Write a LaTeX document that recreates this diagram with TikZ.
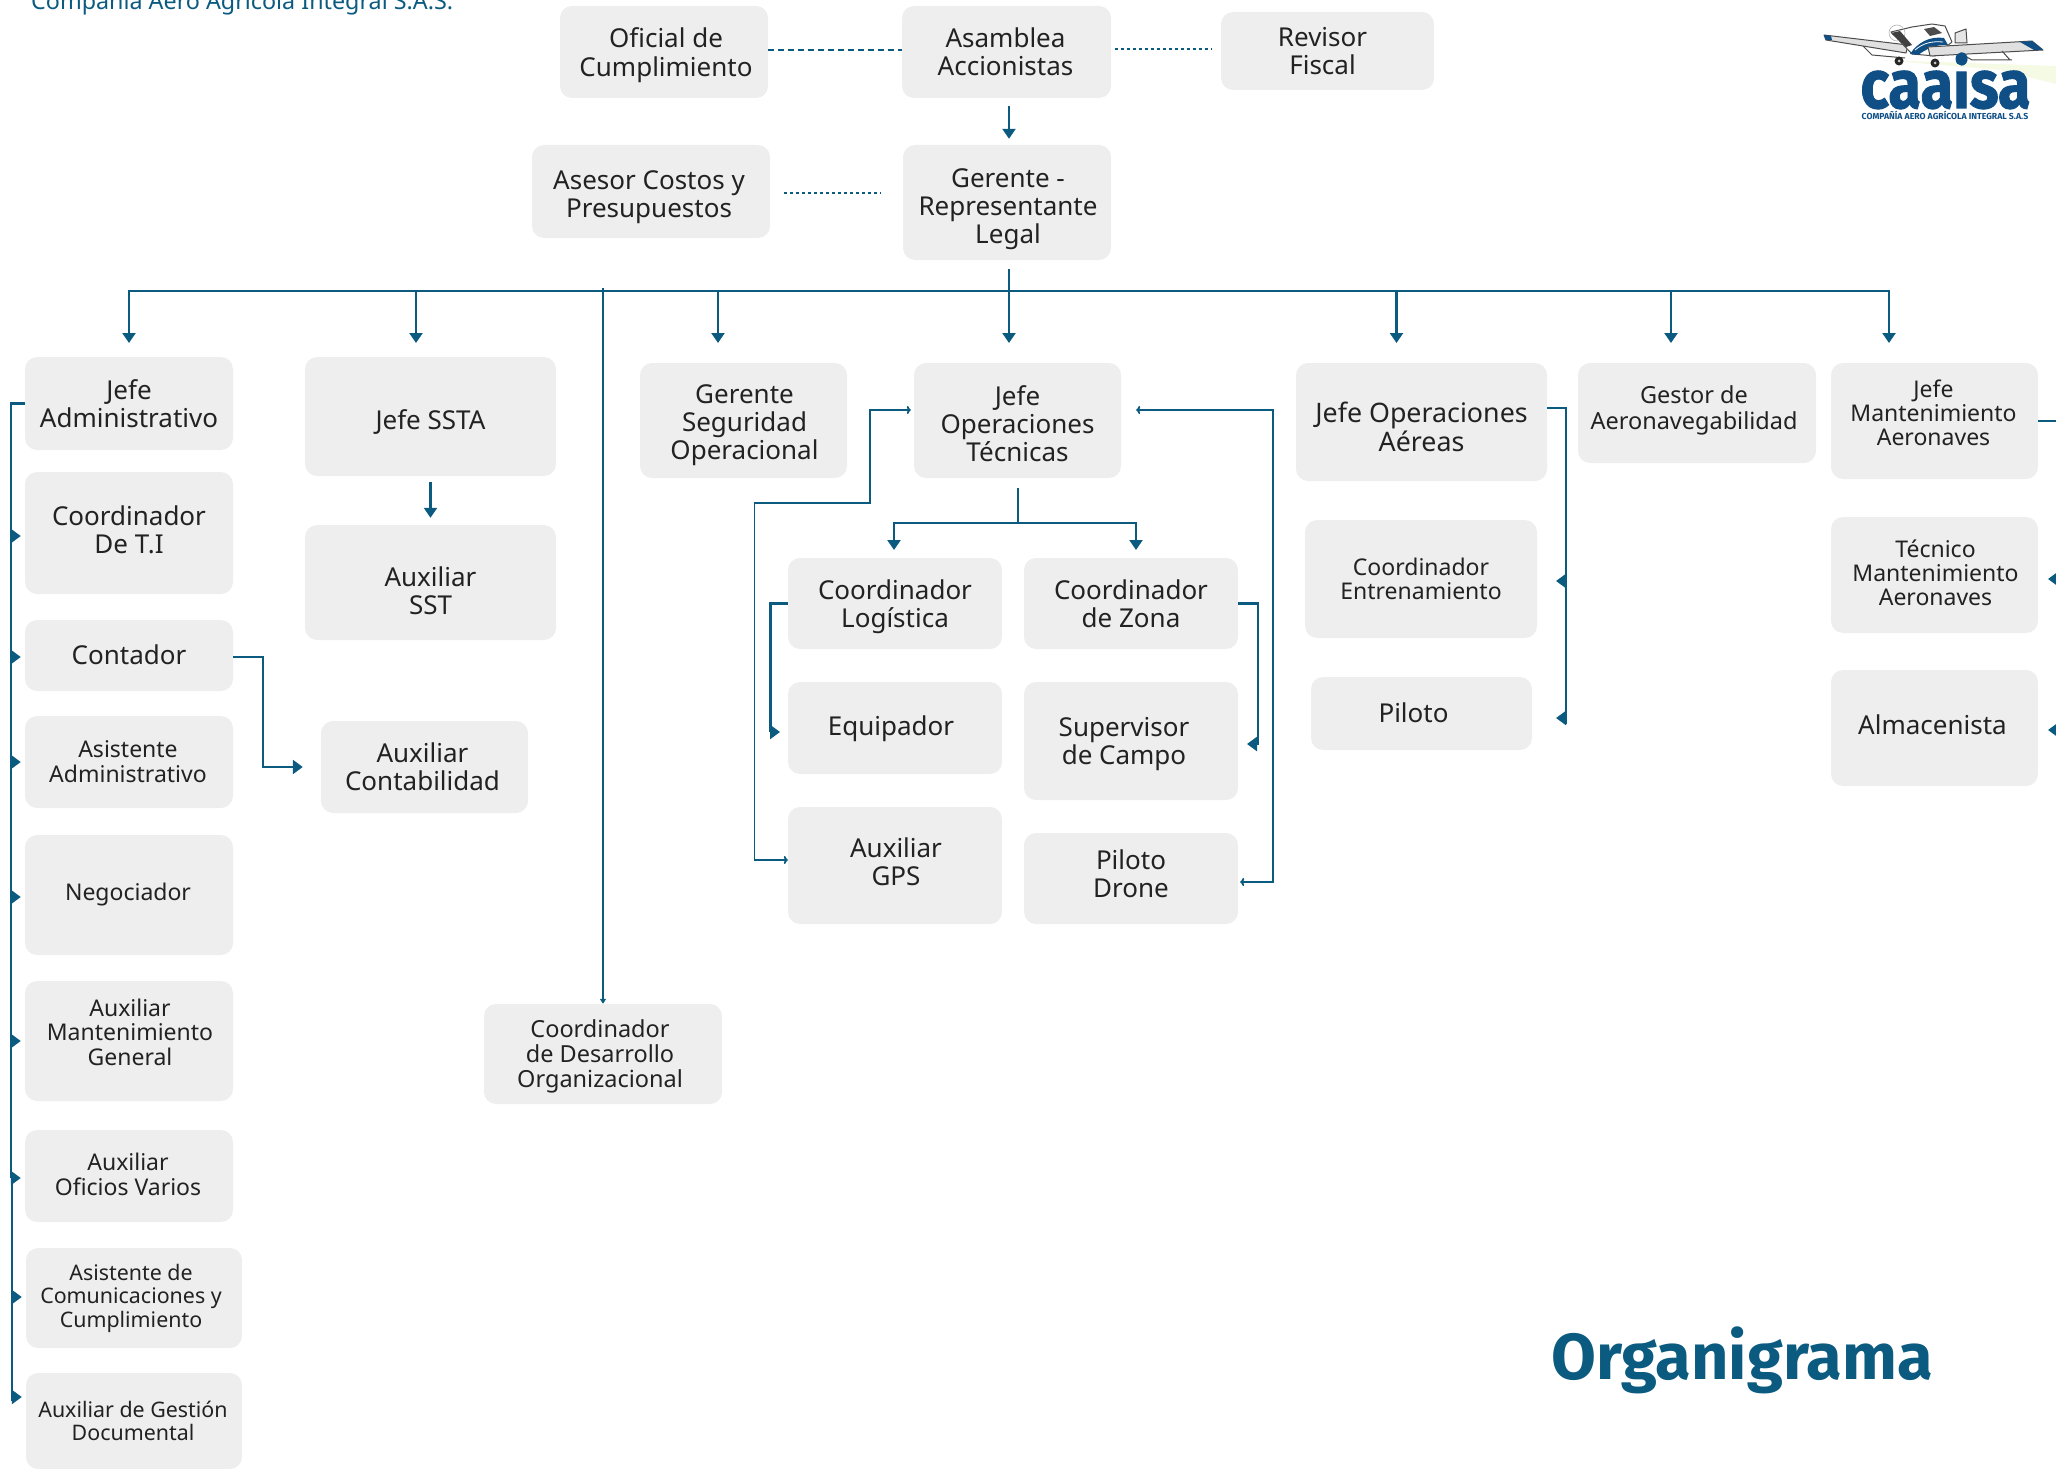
\documentclass[tikz,border=0pt]{standalone}
\usepackage{fontspec}
\usepackage{graphicx}
\setmainfont{Noto Sans}
\newfontfamily\ttlfont{Fira Sans}
\newfontfamily\logofont[UprightFont=* Bold,FakeBold=1.5]{Fira Sans}
\usetikzlibrary{arrows.meta}
\definecolor{teal}{HTML}{0B5A80}
\definecolor{boxgray}{HTML}{EEEEEE}
\definecolor{ink}{HTML}{222222}
\definecolor{logoblue}{HTML}{0F4F86}
\def\sA{\fontsize{26}{28}\selectfont}
\def\sE{\fontsize{26.8}{28}\selectfont}
\def\sB{\fontsize{23.5}{25}\selectfont}
\def\sC{\fontsize{23}{24}\selectfont}
\def\sD{\fontsize{21.4}{23}\selectfont}
\tikzset{
  boxn/.style={fill=boxgray,draw=none,rounded corners=12pt,inner sep=0pt,text=ink,align=center},
  conn/.style={draw=teal,line width=2.3pt},
  thinconn/.style={draw=teal,line width=1.9pt},
  tipdown/.style={conn,-{Triangle[length=10pt,width=13pt]}},
  tipside/.style={conn,-{Triangle[length=10pt,width=14pt]}},
  tipopen/.style={thinconn,{To[length=4pt,width=8pt]}-{To[length=4pt,width=8pt]}},
  tipsmall/.style={thinconn,-{Triangle[length=5pt,width=6pt]}},
  dots/.style={conn,dash pattern=on 3pt off 3pt},
  dashd/.style={conn,dash pattern=on 6pt off 4pt},
}
% name, x1,y1,x2,y2, size, dx,dy, text
\newcommand{\bx}[9]{%
  \pgfmathsetmacro{\bcx}{(#2+#4)/2}%
  \pgfmathsetmacro{\bcy}{(#3+#5)/2}%
  \pgfmathsetmacro{\bw}{#4-#2}%
  \pgfmathsetmacro{\bh}{#5-#3}%
  \node[boxn,minimum width=\bw pt,minimum height=\bh pt] (#1) at (\bcx,\bcy)
   {#6\raisebox{\dimexpr-0.40em-#8pt\relax}[0pt][0pt]{\makebox[0pt]{\hspace*{\dimexpr 2\dimexpr#7pt\relax\relax}\begin{tabular}{@{}c@{}}#9\end{tabular}}}};}
\begin{document}
\begin{tikzpicture}[x=1pt,y=-1pt]
\useasboundingbox (0,0) rectangle (2056,1469);
\clip (0,0) rectangle (2056,1469);
\node[anchor=base west,inner sep=0pt,text=teal,font=\fontsize{23.3}{24}\selectfont] (hdr) at (31,10) {Compañía Aero Agrícola Integral S.A.S.};
\node[anchor=base west,inner sep=0pt,text=teal,font=\ttlfont\bfseries\fontsize{65}{66}\selectfont] (ttl) at (1551,1379) {Organigrama};
% boxes
\bx{ofi}{560}{6}{768}{98}{\sA}{2}{0}{Oficial de\\Cumplimiento}
\bx{asa}{902}{6}{1111}{98}{\sA}{-1}{0}{Asamblea\\Accionistas}
\bx{rev}{1221}{12}{1434}{90}{\sA}{-5}{0}{Revisor\\Fiscal}
\bx{ase}{532}{145}{770}{238}{\sA}{-2}{2}{Asesor Costos y\\Presupuestos}
\bx{ger}{903}{145}{1111}{260}{\sA}{1}{3}{Gerente -\\Representante\\Legal}
\bx{jad}{25}{357}{233}{450}{\sA}{0}{0}{Jefe\\Administrativo}
\bx{ssta}{305}{357}{556}{476}{\sA}{0}{3}{Jefe SSTA}
\bx{cti}{25}{472}{233}{594}{\sA}{0}{-3}{Coordinador\\De T.I}
\bx{con}{25}{620}{233}{691}{\sA}{0}{-1}{Contador}
\bx{asi}{25}{716}{233}{808}{\sC}{-1}{0}{Asistente\\Administrativo}
\bx{neg}{25}{835}{233}{955}{\sC}{-1}{-3}{Negociador}
\bx{amg}{25}{981}{233}{1101}{\sC}{1}{-8}{Auxiliar\\Mantenimiento\\General}
\bx{aof}{25}{1130}{233}{1222}{\sC}{-1}{-1}{Auxiliar\\Oficios Varios}
\bx{aco}{26}{1248}{242}{1348}{\sD}{-3}{-2}{Asistente de\\Comunicaciones y\\Cumplimiento}
\bx{agd}{26}{1373}{242}{1469}{\sD}{-1}{0}{Auxiliar de Gestión\\Documental}
\bx{sst}{305}{525}{556}{640}{\sA}{0}{8}{Auxiliar\\SST}
\bx{actb}{321}{721}{528}{813}{\sA}{-2}{0}{Auxiliar\\Contabilidad}
\bx{des}{484}{1004}{722}{1104}{\sB}{-3}{0}{Coordinador\\de Desarrollo\\Organizacional}
\bx{gso}{640}{363}{847}{478}{\sA}{1}{1}{Gerente\\Seguridad\\Operacional}
\bx{jot}{914}{363}{1121}{478}{\sA}{0}{3}{Jefe\\Operaciones\\Técnicas}
\bx{clo}{788}{558}{1002}{649}{\sA}{0}{0}{Coordinador\\Logística}
\bx{czo}{1024}{558}{1238}{649}{\sA}{0}{0}{Coordinador\\de Zona}
\bx{equ}{788}{682}{1002}{774}{\sA}{-4}{-2}{Equipador}
\bx{sup}{1024}{682}{1238}{800}{\sA}{-7}{0}{Supervisor\\de Campo}
\bx{gps}{788}{807}{1002}{924}{\sA}{1}{-4}{Auxiliar\\GPS}
\bx{dro}{1024}{833}{1238}{924}{\sA}{0}{-5}{Piloto\\Drone}
\bx{joa}{1296}{363}{1547}{481}{\sE}{0}{4}{Jefe Operaciones\\Aéreas}
\bx{cen}{1305}{520}{1537}{638}{\sC}{0}{0}{Coordinador\\Entrenamiento}
\bx{pil}{1311}{677}{1532}{750}{\sA}{-8}{-1}{Piloto}
\bx{ges}{1578}{363}{1816}{463}{\sB}{-3}{-5}{Gestor de\\Aeronavegabilidad}
\bx{jma}{1831}{363}{2038}{479}{\sC}{-1}{-8}{Jefe\\Mantenimiento\\Aeronaves}
\bx{tma}{1831}{517}{2038}{633}{\sC}{1}{-2}{Técnico\\Mantenimiento\\Aeronaves}
\bx{alm}{1831}{670}{2038}{786}{\sA}{-2}{-3}{Almacenista}
% dashed links
\draw[dashd] ([yshift=2pt]ofi.east) -- ([yshift=2pt]asa.west);
\draw[dots] ([xshift=4pt,yshift=3pt]asa.east) -- ([xshift=-9pt,yshift=2pt]rev.west);
\draw[dots] ([xshift=14pt,yshift=-1.5pt]ase.east) -- ([xshift=-22pt,yshift=9.5pt]ger.west);
% main tree
\coordinate (ja1) at (1009,269);
\coordinate (jh) at (1009,291);
\draw[tipdown] (asa.south -| ja1) ++(0,8) -- ([yshift=6pt]ger.north -| ja1);
\draw[conn] (ger.south -| ja1) ++(0,9) -- (jh);
\coordinate (dl) at (129,291);
\coordinate (dr) at (1889,291);
\draw[conn] (dl) -- (dr);
\foreach \dx/\dn in {129/d1,416/d2,718/d3,1009/d4,1396.5/d5,1671/d6,1889/d7}{
  \coordinate (\dn) at (\dx,343);
  \draw[tipdown] (\dx,290) -- (\dn);
}
\coordinate (dtop) at (603,288);
\draw[tipsmall] (dtop) -- (des.north -| dtop);
\draw[tipdown] ([yshift=-6pt]ssta.south) -- ([yshift=7pt]sst.north);
% left spine
\coordinate (ls1) at (11,1178);
\coordinate (ls2) at (12,1178);
\coordinate (ls3) at (12,1401);
\draw[conn] (jad.west) -| (ls1);
\draw[conn] (ls2) -- (ls3);
\foreach \b/\dy in {cti/-3,con/-1.5,asi/0,neg/-2,amg/0,aof/-2,aco/1}{
  \draw[tipside] ([xshift=-14pt,yshift=\dy pt]\b.west) -- ([xshift=-4pt,yshift=\dy pt]\b.west);
}
\draw[tipside] ([xshift=-14pt,yshift=24pt]agd.west) -- ([xshift=-4pt,yshift=24pt]agd.west);
% contador
\coordinate (cbend) at (263,657);
\draw[tipside] ([yshift=-1.5pt]con.east) -- (cbend) |- ([xshift=-18pt]actb.west);
% Jefe Op Tec
\coordinate (t1) at (1018,488);
\coordinate (t2) at (1018,523);
\draw[conn] (t1) -- (t2);
\draw[tipdown] (t2) -| (894,550);
\draw[tipdown] (t2) -| (1136,550);
% Log
\coordinate (lg1) at (770.5,603);
\coordinate (lg2) at (770.5,732);
\draw[conn] ([yshift=0pt]clo.west) -- (lg1 |- clo.west) -- (lg2);
\draw[tipside] (770,732) -- (780,732);
% Zona
\coordinate (zn1) at (1258,603.5);
\coordinate (zn2) at (1258,745);
\draw[conn] (czo.east) -- (zn1 |- czo.east) -- (zn2);
\draw[tipside] (1258,744) -- (1247,744);
% GPS loop
\draw[tipopen] ([xshift=-3pt,yshift=10.5pt]jot.west) -- (870,410) -- (870,503) -- (754.5,503) -- (754.5,860) -- ([yshift=5.5pt]gps.west);
% Drone loop
\draw[tipopen] ([xshift=15pt,yshift=10.5pt]jot.east) -- (1273,410) -- (1273,882) -- ([xshift=2pt,yshift=-3.5pt]dro.east);
% Op Aereas
\coordinate (oa1) at (1566,408);
\coordinate (oa2) at (1566,724);
\draw[conn] ([yshift=14pt]joa.east) -- (oa1) -- (oa2);
\draw[tipside] (1566,581) -- (1556,581);
\draw[tipside] (1566,718) -- (1556,718);
% Mantenimiento
\coordinate (ma1) at (2060,421);
\draw[conn] (jma.east) -- (ma1);
\draw[tipside] (2058,579) -- (2048,579);
\draw[tipside] (2058,730) -- (2048,730);
% logo
\begin{scope}[line join=round]
  \fill[yellow!60!green!50,opacity=.22] (1880,60) -- (2056,66) -- (2056,84) -- (2000,70) -- cycle;
  \draw[draw=black!70,fill=black!12,line width=1pt] (1824,35) -- (1826,40) -- (1906,53) -- (1908,45) -- cycle;
  \fill[logoblue] (1824,35) -- (1826,40) -- (1832,40) -- (1831,36) -- cycle;
  \draw[black!70,line width=1pt] (1863,46) -- (1872,55) -- (1905,58);
  \draw[draw=black!70,fill=black!10,line width=1pt] (1955,33) -- (1966,29) -- (1967,43) -- (1955,43) -- cycle;
  \draw[draw=black!70,fill=white,line width=1pt] (1891,32) -- (1912,27) -- (1932,24) -- (1945,26) -- (1952,42) -- (1935,56) -- (1912,54) -- cycle;
  \draw[black!30,line width=.6pt] (1897,33) circle (8);
  \fill[black!75] (1891,33) -- (1900,31) -- (1912,45) -- (1906,47) -- cycle;
  \fill[black!70] (1924,29) -- (1934,27) -- (1942,33) -- (1930,36) -- cycle;
  \fill[logoblue] (1910,54) .. controls (1918,42) and (1930,36) .. (1944,38) -- (1948,45) .. controls (1935,44) and (1925,50) .. (1918,55) -- cycle;
  \draw[white,line width=.8pt] (1915,50) .. controls (1923,43) and (1932,41) .. (1943,42);
  \draw[draw=black!70,fill=black!12,line width=1pt] (1928,47) -- (2032,41) -- (2043,50) -- (1930,56) -- cycle;
  \fill[logoblue] (2020,42) -- (2032,41) -- (2043,50) -- (2034,50) -- cycle;
  \draw[black!70,line width=1pt] (1960,53) -- (1972,60) -- (2012,60) (2002,51) -- (2010,60);
  \fill[black!85] (1899,61) circle (4.5) (1935,63) circle (4.5);
  \fill[black!20] (1899,61) circle (1.5) (1935,63) circle (1.5);
\end{scope}
\node[inner sep=0pt,anchor=base,text=logoblue,font=\logofont\fontsize{68}{68}\selectfont] (lg) at (1945.5,108) {\scalebox{.873}[1]{caaisa}};
\node[inner sep=0pt,anchor=base,text=logoblue,font=\ttlfont\bfseries\fontsize{8.7}{8.7}\selectfont] (lgc) at (1945,120) {COMPAÑÍA AERO AGRÍCOLA INTEGRAL S.A.S};
\end{tikzpicture}
\end{document}
